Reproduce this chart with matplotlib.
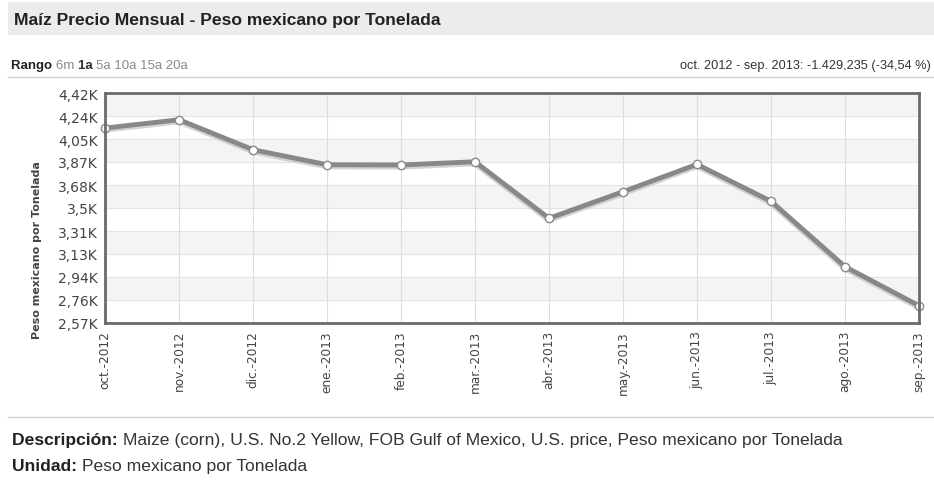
import matplotlib
matplotlib.use("Agg")
import matplotlib.pyplot as plt
from matplotlib.patches import Rectangle
from matplotlib.lines import Line2D
import numpy as np

months = ["oct.-2012", "nov.-2012", "dic.-2012", "ene.-2013", "feb.-2013", "mar.-2013",
          "abr.-2013", "may.-2013", "jun.-2013", "jul.-2013", "ago.-2013", "sep.-2013"]
prices = [4137.9, 4205, 3964, 3843, 3841, 3867, 3412, 3626, 3846, 3549, 3023, 2708.6]
ytick_values = [2570, 2755, 2940, 3125, 3310, 3495, 3680, 3865, 4050, 4235, 4420]
ytick_labels = ["2,57K", "2,76K", "2,94K", "3,13K", "3,31K", "3,5K", "3,68K", "3,87K",
                "4,05K", "4,24K", "4,42K"]

title = "Maíz Precio Mensual - Peso mexicano por Tonelada"
range_text = "oct. 2012 - sep. 2013: -1.429,235 (-34,54 %)"

W, H = 934, 485
fig = plt.figure(figsize=(W / 100, H / 100), dpi=100)
fig.patch.set_facecolor("white")

def fx(px):
    return px / W

def fy(py):
    return 1 - py / H

# title band
fig.patches.append(Rectangle((fx(8), fy(36)), fx(W - 8), (33) / H, transform=fig.transFigure,
                             facecolor="#ececec", edgecolor="none", zorder=0))
fig.text(fx(14), fy(20), title, fontsize=12.6, fontweight="bold", family="Liberation Sans",
         color="#222222", va="center", ha="left")

# separator lines
fig.add_artist(Line2D([fx(8), 1], [fy(78), fy(78)], transform=fig.transFigure, color="#cfcfcf", lw=1))
fig.add_artist(Line2D([fx(8), 1], [fy(418), fy(418)], transform=fig.transFigure, color="#cfcfcf", lw=1))

fig.canvas.draw()
renderer = fig.canvas.get_renderer()

def run_text(x_px, y_px, parts, size, family="Liberation Sans"):
    x = x_px
    for txt, weight, color in parts:
        t = fig.text(fx(x), fy(y_px), txt, fontsize=size, fontweight=weight, family=family,
                     color=color, va="center", ha="left")
        bb = t.get_window_extent(renderer=renderer)
        x += bb.width
    return x

run_text(11, 66, [("Rango ", "bold", "#222222"), ("6m ", "normal", "#8a8a8a"),
                  ("1a ", "bold", "#333333"), ("5a 10a 15a 20a", "normal", "#8a8a8a")], 9.5)
fig.text(fx(931), fy(66), range_text, fontsize=9.2, family="Liberation Sans", color="#333333",
         ha="right", va="center")

run_text(12, 441, [("Descripción: ", "bold", "#222222"),
                   ("Maize (corn), U.S. No.2 Yellow, FOB Gulf of Mexico, U.S. price, Peso mexicano por Tonelada",
                    "normal", "#333333")], 12.6)
run_text(12, 467, [("Unidad: ", "bold", "#222222"), ("Peso mexicano por Tonelada", "normal", "#333333")], 12.6)

# plot area
ax = fig.add_axes([fx(105), fy(324), fx(919) - fx(105), (324 - 94) / H])
x = np.arange(len(months))
ax.set_xlim(0, len(months) - 1)
ax.set_ylim(ytick_values[0], ytick_values[-1])

for i in range(len(ytick_values) - 1):
    if i % 2 == 1:
        ax.axhspan(ytick_values[i], ytick_values[i + 1], color="#f4f4f4", zorder=0, lw=0)
for v in ytick_values:
    ax.axhline(v, color="#e3e3e3", lw=0.8, zorder=1)
for xi in x:
    ax.axvline(xi, color="#dedede", lw=0.8, zorder=1)

# shadow
ax.plot(x, np.array(prices) - 12, color="#c8c8c8", lw=4.5, zorder=2, solid_capstyle="round",
        solid_joinstyle="round", alpha=0.8)
ax.plot(x, prices, color="#888888", lw=3.5, zorder=3, solid_joinstyle="round",
        marker="o", markersize=6, markerfacecolor="white", markeredgecolor="#8a8a8a",
        markeredgewidth=1, clip_on=False)

ax.set_yticks(ytick_values)
ax.set_yticklabels(ytick_labels, fontsize=10, color="#444444", family="DejaVu Sans")
ax.set_xticks(x)
ax.set_xticklabels(months, rotation=90, fontsize=8.7, color="#444444", family="DejaVu Sans")
ax.tick_params(length=0, pad=5)
ax.tick_params(axis="x", pad=5)
for s in ax.spines.values():
    s.set_color("#6a6a6a")
    s.set_linewidth(2)
    s.set_zorder(5)

fig.text(fx(37), fy(250), "Peso mexicano por Tonelada", rotation=90, fontsize=8,
         fontweight="bold", family="DejaVu Sans", color="#444444", ha="center", va="center")

fig.savefig("out.png", dpi=100)
